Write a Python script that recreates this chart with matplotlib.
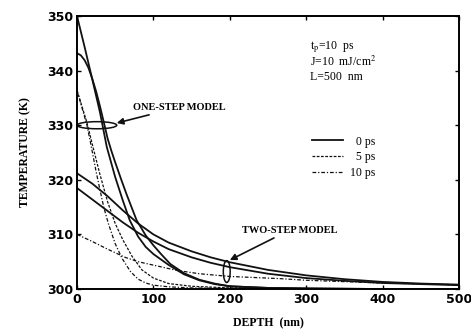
import matplotlib
matplotlib.use("Agg")
import matplotlib.pyplot as plt
from matplotlib.patches import Ellipse

# one-step model curves (depth nm, temperature K)
one_a_depth = [0, 10, 20, 30, 39, 50, 60, 69, 80, 90, 100, 110, 120, 140, 160, 180, 200, 250, 300, 400, 500]
one_a_temp = [350, 344.3, 338.4, 332.4, 326, 320.5, 316.2, 312.6, 309.6, 307.7, 306.4, 305.4, 304.4, 302.7, 301.6, 300.9, 300.5, 300.2, 300.1, 300, 300]

one_b_depth = [0, 5, 10, 15, 20, 25, 30, 35, 40, 45, 50, 58, 65, 78, 90, 100, 110, 122, 140, 160, 180, 200, 250, 300, 400, 500]
one_b_temp = [343.2, 342.8, 341.9, 340.5, 338.5, 336.2, 333.5, 330.6, 327.6, 325.3, 323.2, 320, 317.3, 312.6, 309.8, 308, 306.4, 304.6, 302.9, 301.7, 301, 300.5, 300.2, 300.1, 300, 300]

one_c_depth = [0, 13, 20, 30, 40, 50, 60, 72, 85, 100, 120, 150, 200, 300, 500]
one_c_temp = [336.4, 330.5, 326.5, 321, 316, 312, 309, 306, 303.5, 302, 301, 300.5, 300.2, 300.1, 300]

one_d_depth = [0, 13, 17, 25, 30, 35, 41, 50, 59, 70, 80, 90, 100, 120, 150, 200, 300, 500]
one_d_temp = [336.4, 330, 327.3, 321.5, 318.2, 315, 312, 308.3, 305.6, 303.2, 301.8, 301.1, 300.7, 300.4, 300.2, 300.1, 300, 300]

# two-step model curves
two_a_depth = [0, 20, 40, 60, 80, 100, 120, 150, 175, 200, 250, 300, 350, 400, 450, 500]
two_a_temp = [321.2, 319.3, 317, 314.4, 312, 310, 308.5, 306.9, 305.8, 304.9, 303.5, 302.5, 301.8, 301.3, 301, 300.8]

two_b_depth = [0, 20, 40, 60, 80, 100, 120, 150, 175, 200, 250, 300, 350, 400, 450, 500]
two_b_temp = [318.5, 316.4, 314.3, 312.2, 310.3, 308.7, 307.3, 305.8, 304.8, 304, 302.8, 302, 301.5, 301.1, 300.9, 300.7]

two_c_depth = [0, 20, 40, 63, 80, 96, 131, 160, 200, 266, 300, 400, 500]
two_c_temp = [310, 308.7, 307.3, 305.8, 305, 304.5, 303.4, 302.8, 302.3, 301.9, 301.6, 301.1, 300.8]

x_ticks = [0, 100, 200, 300, 400, 500]
y_ticks = [300, 310, 320, 330, 340, 350]
legend_labels = ['\u20070 ps', '\u20075 ps', '10 ps']

plt.rcParams['mathtext.fontset'] = 'stix'
serif = ['Liberation Serif', 'DejaVu Serif']

fig = plt.figure(figsize=(4.71, 3.34), dpi=100)
ax = fig.add_axes([0.1635, 0.1347, 0.811, 0.8173])

solid = '-'
dashed = (0, (2.2, 1.2))
dashdot = (0, (3, 1.5, 1, 1.5))
ink = '#111111'

l0, = ax.plot(one_a_depth, one_a_temp, color=ink, lw=1.3, ls=solid)
ax.plot(one_b_depth, one_b_temp, color=ink, lw=1.3, ls=solid)
l5, = ax.plot(one_c_depth, one_c_temp, color=ink, lw=0.9, ls=dashed)
l10, = ax.plot(one_d_depth, one_d_temp, color=ink, lw=0.9, ls=dashdot)
ax.plot(two_a_depth, two_a_temp, color=ink, lw=1.3, ls=solid)
ax.plot(two_b_depth, two_b_temp, color=ink, lw=1.3, ls=solid)
ax.plot(two_c_depth, two_c_temp, color=ink, lw=0.9, ls=dashdot)

ax.set_xlim(0, 500)
ax.set_ylim(300, 350)
ax.set_xticks(x_ticks)
ax.set_yticks(y_ticks)
ax.tick_params(direction='in', length=3, width=1, top=True, right=True, pad=3)
for lab in ax.get_xticklabels() + ax.get_yticklabels():
    lab.set_fontweight('bold')
    lab.set_fontsize(9)
for sp in ax.spines.values():
    sp.set_linewidth(1.4)

ax.set_xlabel('DEPTH  (nm)', fontfamily=serif, fontweight='bold', fontsize=8.5, labelpad=8)
ax.set_ylabel('TEMPERATURE (K)', fontfamily=serif, fontweight='bold', fontsize=8.5, labelpad=11)

# ellipses marking the model groups
ax.add_patch(Ellipse((26, 330), 52, 1.3, fill=False, color=ink, lw=1.1))
ax.add_patch(Ellipse((196, 303.2), 9, 4, fill=False, color=ink, lw=1.1))

arrow = dict(arrowstyle='-|>,head_length=0.5,head_width=0.25', color=ink, lw=1.2, shrinkA=1, shrinkB=0)
ax.annotate('ONE-STEP MODEL', xy=(52, 330.4), xytext=(73, 333.3), fontfamily=serif, fontweight='bold',
            fontsize=7.5, ha='left', va='center', arrowprops=arrow)
ax.annotate('TWO-STEP MODEL', xy=(200, 305.3), xytext=(216, 310.8), fontfamily=serif, fontweight='bold',
            fontsize=7.5, ha='left', va='center', arrowprops=arrow)

ax.text(305, 344.3, 't$_\\mathrm{p}$=10  ps', fontfamily=serif, fontsize=8.5, va='center')
ax.text(305, 341.6, 'J=10  mJ/cm$^2$', fontfamily=serif, fontsize=8.5, va='center')
ax.text(305, 338.9, 'L=500  nm', fontfamily=serif, fontsize=8.5, va='center')

leg = ax.legend([l0, l5, l10], legend_labels, loc='center left', bbox_to_anchor=(0.615, 0.483),
                frameon=False, borderaxespad=0, borderpad=0, handlelength=2.6, handletextpad=0.6,
                labelspacing=0.3, prop={'family': serif, 'size': 8.5})

fig.savefig('out.png', dpi=100)
